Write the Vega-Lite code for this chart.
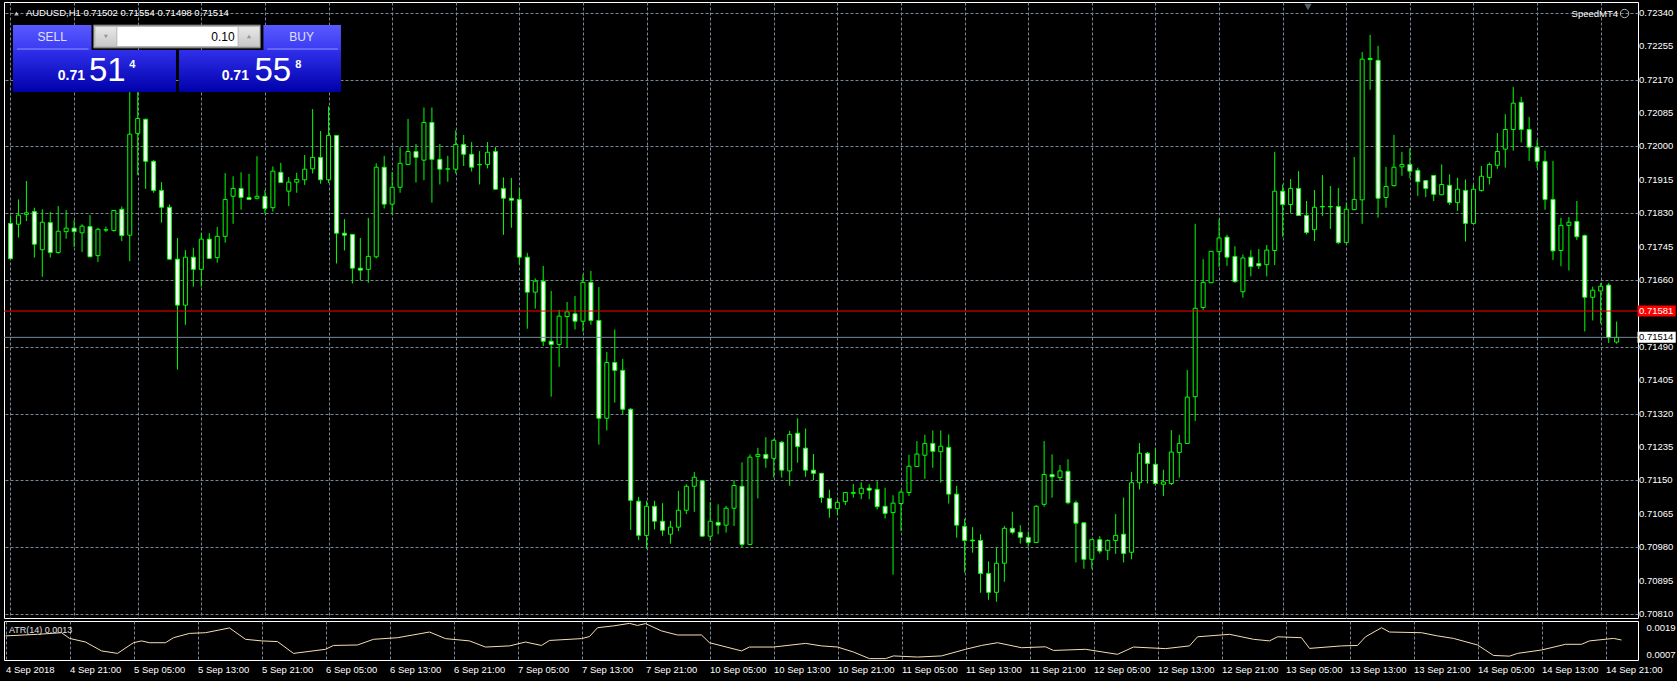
{
"$schema": "https://vega.github.io/schema/vega-lite/v6.json",
"background": "#000000",
"padding": {"left": 3, "top": 1, "right": 0, "bottom": 8},
"bounds": "flush",
"spacing": 3,
"config": {
  "view": {"stroke": "#ffffff", "strokeWidth": 1},
  "axis": {"labelFont": "Liberation Sans", "labelColor": "#ffffff", "labelFontSize": 9.5, "labelOverlap": false, "labelFlush": false, "gridColor": "#778899", "gridDash": [3, 2], "gridOpacity": 1, "gridWidth": 1, "domain": false, "ticks": false, "title": null},
  "text": {"font": "Liberation Sans"}
},
"datasets": {
  "candles": [
{"i":0,"o":0.71804,"h":0.71824,"l":0.71713,"c":0.71714},
{"i":1,"o":0.71802,"h":0.71865,"l":0.71768,"c":0.71825},
{"i":2,"o":0.71827,"h":0.71912,"l":0.71810,"c":0.71831},
{"i":3,"o":0.71834,"h":0.71844,"l":0.71717,"c":0.71751},
{"i":4,"o":0.71737,"h":0.71840,"l":0.71668,"c":0.71807},
{"i":5,"o":0.71806,"h":0.71833,"l":0.71717,"c":0.71730},
{"i":6,"o":0.71730,"h":0.71848,"l":0.71727,"c":0.71784},
{"i":7,"o":0.71783,"h":0.71838,"l":0.71765,"c":0.71792},
{"i":8,"o":0.71792,"h":0.71812,"l":0.71744,"c":0.71783},
{"i":9,"o":0.71780,"h":0.71802,"l":0.71731,"c":0.71797},
{"i":10,"o":0.71796,"h":0.71825,"l":0.71718,"c":0.71719},
{"i":11,"o":0.71722,"h":0.71793,"l":0.71706,"c":0.71789},
{"i":12,"o":0.71787,"h":0.71796,"l":0.71782,"c":0.71788},
{"i":13,"o":0.71786,"h":0.71838,"l":0.71783,"c":0.71837},
{"i":14,"o":0.71840,"h":0.71847,"l":0.71759,"c":0.71773},
{"i":15,"o":0.71774,"h":0.72150,"l":0.71708,"c":0.72031},
{"i":16,"o":0.72033,"h":0.72140,"l":0.71927,"c":0.72071},
{"i":17,"o":0.72069,"h":0.72071,"l":0.71892,"c":0.71962},
{"i":18,"o":0.71962,"h":0.71965,"l":0.71882,"c":0.71888},
{"i":19,"o":0.71888,"h":0.71909,"l":0.71806,"c":0.71845},
{"i":20,"o":0.71845,"h":0.71852,"l":0.71712,"c":0.71713},
{"i":21,"o":0.71713,"h":0.71767,"l":0.71432,"c":0.71596},
{"i":22,"o":0.71596,"h":0.71736,"l":0.71546,"c":0.71718},
{"i":23,"o":0.71718,"h":0.71742,"l":0.71643,"c":0.71687},
{"i":24,"o":0.71687,"h":0.71780,"l":0.71643,"c":0.71764},
{"i":25,"o":0.71764,"h":0.71779,"l":0.71714,"c":0.71715},
{"i":26,"o":0.71717,"h":0.71795,"l":0.71704,"c":0.71771},
{"i":27,"o":0.71771,"h":0.71932,"l":0.71755,"c":0.71865},
{"i":28,"o":0.71873,"h":0.71924,"l":0.71803,"c":0.71893},
{"i":29,"o":0.71893,"h":0.71934,"l":0.71839,"c":0.71870},
{"i":30,"o":0.71870,"h":0.71930,"l":0.71863,"c":0.71865},
{"i":31,"o":0.71868,"h":0.71975,"l":0.71865,"c":0.71873},
{"i":32,"o":0.71873,"h":0.71889,"l":0.71829,"c":0.71842},
{"i":33,"o":0.71844,"h":0.71949,"l":0.71834,"c":0.71937},
{"i":34,"o":0.71934,"h":0.71958,"l":0.71907,"c":0.71908},
{"i":35,"o":0.71886,"h":0.71922,"l":0.71848,"c":0.71909},
{"i":36,"o":0.71909,"h":0.71933,"l":0.71882,"c":0.71916},
{"i":37,"o":0.71915,"h":0.71978,"l":0.71902,"c":0.71942},
{"i":38,"o":0.71943,"h":0.72095,"l":0.71931,"c":0.71972},
{"i":39,"o":0.71972,"h":0.72039,"l":0.71905,"c":0.71915},
{"i":40,"o":0.71915,"h":0.72102,"l":0.71907,"c":0.72028},
{"i":41,"o":0.72028,"h":0.72029,"l":0.71702,"c":0.71779},
{"i":42,"o":0.71779,"h":0.71815,"l":0.71735,"c":0.71774},
{"i":43,"o":0.71776,"h":0.71776,"l":0.71651,"c":0.71690},
{"i":44,"o":0.71690,"h":0.71767,"l":0.71659,"c":0.71685},
{"i":45,"o":0.71687,"h":0.71818,"l":0.71653,"c":0.71720},
{"i":46,"o":0.71719,"h":0.71957,"l":0.71715,"c":0.71947},
{"i":47,"o":0.71947,"h":0.71976,"l":0.71842,"c":0.71853},
{"i":48,"o":0.71853,"h":0.71935,"l":0.71827,"c":0.71896},
{"i":49,"o":0.71896,"h":0.71998,"l":0.71882,"c":0.71957},
{"i":50,"o":0.71954,"h":0.72070,"l":0.71953,"c":0.71987},
{"i":51,"o":0.71987,"h":0.72006,"l":0.71908,"c":0.71972},
{"i":52,"o":0.71965,"h":0.72099,"l":0.71914,"c":0.72061},
{"i":53,"o":0.72061,"h":0.72099,"l":0.71857,"c":0.71967},
{"i":54,"o":0.71967,"h":0.72006,"l":0.71903,"c":0.71942},
{"i":55,"o":0.71942,"h":0.71976,"l":0.71910,"c":0.71943},
{"i":56,"o":0.71942,"h":0.72041,"l":0.71931,"c":0.72005},
{"i":57,"o":0.72005,"h":0.72029,"l":0.71950,"c":0.71980},
{"i":58,"o":0.71980,"h":0.72011,"l":0.71936,"c":0.71947},
{"i":59,"o":0.71953,"h":0.71988,"l":0.71903,"c":0.71954},
{"i":60,"o":0.71954,"h":0.72011,"l":0.71944,"c":0.71985},
{"i":61,"o":0.71987,"h":0.71998,"l":0.71890,"c":0.71891},
{"i":62,"o":0.71893,"h":0.71921,"l":0.71775,"c":0.71868},
{"i":63,"o":0.71868,"h":0.71920,"l":0.71793,"c":0.71863},
{"i":64,"o":0.71865,"h":0.71895,"l":0.71700,"c":0.71718},
{"i":65,"o":0.71718,"h":0.71729,"l":0.71536,"c":0.71629},
{"i":66,"o":0.71629,"h":0.71664,"l":0.71587,"c":0.71657},
{"i":67,"o":0.71657,"h":0.71696,"l":0.71492,"c":0.71504},
{"i":68,"o":0.71504,"h":0.71632,"l":0.71363,"c":0.71496},
{"i":69,"o":0.71496,"h":0.71584,"l":0.71439,"c":0.71568},
{"i":70,"o":0.71567,"h":0.71604,"l":0.71488,"c":0.71579},
{"i":71,"o":0.71574,"h":0.71619,"l":0.71534,"c":0.71555},
{"i":72,"o":0.71555,"h":0.71674,"l":0.71528,"c":0.71654},
{"i":73,"o":0.71654,"h":0.71683,"l":0.71546,"c":0.71557},
{"i":74,"o":0.71557,"h":0.71642,"l":0.71241,"c":0.71308},
{"i":75,"o":0.71308,"h":0.71477,"l":0.71277,"c":0.71450},
{"i":76,"o":0.71450,"h":0.71534,"l":0.71348,"c":0.71430},
{"i":77,"o":0.71430,"h":0.71459,"l":0.71318,"c":0.71331},
{"i":78,"o":0.71331,"h":0.71334,"l":0.71024,"c":0.71099},
{"i":79,"o":0.71097,"h":0.71108,"l":0.70998,"c":0.71010},
{"i":80,"o":0.71010,"h":0.71098,"l":0.70976,"c":0.71084},
{"i":81,"o":0.71084,"h":0.71098,"l":0.71025,"c":0.71046},
{"i":82,"o":0.71046,"h":0.71092,"l":0.71009,"c":0.71023},
{"i":83,"o":0.71013,"h":0.71047,"l":0.70989,"c":0.71031},
{"i":84,"o":0.71031,"h":0.71123,"l":0.71021,"c":0.71074},
{"i":85,"o":0.71074,"h":0.71140,"l":0.71064,"c":0.71135},
{"i":86,"o":0.71135,"h":0.71171,"l":0.71070,"c":0.71158},
{"i":87,"o":0.71149,"h":0.71150,"l":0.71007,"c":0.71008},
{"i":88,"o":0.71008,"h":0.71095,"l":0.70996,"c":0.71046},
{"i":89,"o":0.71043,"h":0.71089,"l":0.71013,"c":0.71036},
{"i":90,"o":0.71036,"h":0.71085,"l":0.71017,"c":0.71079},
{"i":91,"o":0.71079,"h":0.71150,"l":0.71034,"c":0.71137},
{"i":92,"o":0.71135,"h":0.71196,"l":0.70979,"c":0.70987},
{"i":93,"o":0.70987,"h":0.71216,"l":0.70986,"c":0.71209},
{"i":94,"o":0.71211,"h":0.71233,"l":0.71104,"c":0.71216},
{"i":95,"o":0.71216,"h":0.71260,"l":0.71182,"c":0.71206},
{"i":96,"o":0.71206,"h":0.71255,"l":0.71157,"c":0.71252},
{"i":97,"o":0.71247,"h":0.71250,"l":0.71157,"c":0.71176},
{"i":98,"o":0.71174,"h":0.71276,"l":0.71136,"c":0.71267},
{"i":99,"o":0.71270,"h":0.71308,"l":0.71195,"c":0.71236},
{"i":100,"o":0.71232,"h":0.71282,"l":0.71159,"c":0.71176},
{"i":101,"o":0.71176,"h":0.71217,"l":0.71151,"c":0.71168},
{"i":102,"o":0.71168,"h":0.71169,"l":0.71093,"c":0.71106},
{"i":103,"o":0.71104,"h":0.71126,"l":0.71055,"c":0.71079},
{"i":104,"o":0.71078,"h":0.71100,"l":0.71061,"c":0.71094},
{"i":105,"o":0.71096,"h":0.71120,"l":0.71087,"c":0.71119},
{"i":106,"o":0.71117,"h":0.71141,"l":0.71106,"c":0.71119},
{"i":107,"o":0.71116,"h":0.71145,"l":0.71102,"c":0.71130},
{"i":108,"o":0.71130,"h":0.71140,"l":0.71102,"c":0.71125},
{"i":109,"o":0.71127,"h":0.71148,"l":0.71076,"c":0.71083},
{"i":110,"o":0.71084,"h":0.71131,"l":0.71053,"c":0.71066},
{"i":111,"o":0.71068,"h":0.71112,"l":0.70910,"c":0.71092},
{"i":112,"o":0.71091,"h":0.71126,"l":0.71021,"c":0.71120},
{"i":113,"o":0.71119,"h":0.71215,"l":0.71110,"c":0.71186},
{"i":114,"o":0.71185,"h":0.71250,"l":0.71184,"c":0.71217},
{"i":115,"o":0.71214,"h":0.71266,"l":0.71154,"c":0.71244},
{"i":116,"o":0.71244,"h":0.71277,"l":0.71182,"c":0.71224},
{"i":117,"o":0.71223,"h":0.71277,"l":0.71144,"c":0.71237},
{"i":118,"o":0.71234,"h":0.71267,"l":0.71091,"c":0.71115},
{"i":119,"o":0.71115,"h":0.71136,"l":0.71004,"c":0.71036},
{"i":120,"o":0.71033,"h":0.71052,"l":0.70915,"c":0.70997},
{"i":121,"o":0.70998,"h":0.71031,"l":0.70966,"c":0.70996},
{"i":122,"o":0.70997,"h":0.71013,"l":0.70864,"c":0.70913},
{"i":123,"o":0.70913,"h":0.70944,"l":0.70846,"c":0.70865},
{"i":124,"o":0.70865,"h":0.70979,"l":0.70841,"c":0.70939},
{"i":125,"o":0.70939,"h":0.71034,"l":0.70892,"c":0.71028},
{"i":126,"o":0.71028,"h":0.71070,"l":0.71013,"c":0.71018},
{"i":127,"o":0.71018,"h":0.71036,"l":0.70989,"c":0.71005},
{"i":128,"o":0.71005,"h":0.71020,"l":0.70981,"c":0.70992},
{"i":129,"o":0.70992,"h":0.71087,"l":0.70991,"c":0.71084},
{"i":130,"o":0.71089,"h":0.71250,"l":0.71083,"c":0.71165},
{"i":131,"o":0.71165,"h":0.71216,"l":0.71106,"c":0.71159},
{"i":132,"o":0.71157,"h":0.71189,"l":0.71148,"c":0.71174},
{"i":133,"o":0.71173,"h":0.71204,"l":0.71089,"c":0.71093},
{"i":134,"o":0.71093,"h":0.71099,"l":0.70941,"c":0.71041},
{"i":135,"o":0.71042,"h":0.71042,"l":0.70925,"c":0.70949},
{"i":136,"o":0.70949,"h":0.71000,"l":0.70925,"c":0.70999},
{"i":137,"o":0.70999,"h":0.71008,"l":0.70964,"c":0.70970},
{"i":138,"o":0.70972,"h":0.71000,"l":0.70947,"c":0.70997},
{"i":139,"o":0.70997,"h":0.71064,"l":0.70963,"c":0.71010},
{"i":140,"o":0.71013,"h":0.71106,"l":0.70941,"c":0.70964},
{"i":141,"o":0.70967,"h":0.71171,"l":0.70949,"c":0.71144},
{"i":142,"o":0.71144,"h":0.71245,"l":0.71127,"c":0.71219},
{"i":143,"o":0.71219,"h":0.71222,"l":0.71142,"c":0.71193},
{"i":144,"o":0.71191,"h":0.71232,"l":0.71137,"c":0.71142},
{"i":145,"o":0.71140,"h":0.71177,"l":0.71110,"c":0.71146},
{"i":146,"o":0.71142,"h":0.71278,"l":0.71138,"c":0.71222},
{"i":147,"o":0.71221,"h":0.71266,"l":0.71157,"c":0.71244},
{"i":148,"o":0.71244,"h":0.71431,"l":0.71243,"c":0.71362},
{"i":149,"o":0.71363,"h":0.71803,"l":0.71301,"c":0.71588},
{"i":150,"o":0.71590,"h":0.71713,"l":0.71584,"c":0.71654},
{"i":151,"o":0.71653,"h":0.71734,"l":0.71652,"c":0.71733},
{"i":152,"o":0.71732,"h":0.71815,"l":0.71693,"c":0.71767},
{"i":153,"o":0.71769,"h":0.71775,"l":0.71696,"c":0.71718},
{"i":154,"o":0.71720,"h":0.71746,"l":0.71653,"c":0.71656},
{"i":155,"o":0.71630,"h":0.71725,"l":0.71615,"c":0.71716},
{"i":156,"o":0.71718,"h":0.71736,"l":0.71669,"c":0.71694},
{"i":157,"o":0.71702,"h":0.71739,"l":0.71688,"c":0.71696},
{"i":158,"o":0.71699,"h":0.71749,"l":0.71669,"c":0.71736},
{"i":159,"o":0.71735,"h":0.71986,"l":0.71698,"c":0.71886},
{"i":160,"o":0.71886,"h":0.71903,"l":0.71770,"c":0.71852},
{"i":161,"o":0.71852,"h":0.71917,"l":0.71830,"c":0.71893},
{"i":162,"o":0.71893,"h":0.71937,"l":0.71823,"c":0.71824},
{"i":163,"o":0.71824,"h":0.71861,"l":0.71776,"c":0.71781},
{"i":164,"o":0.71788,"h":0.71889,"l":0.71759,"c":0.71845},
{"i":165,"o":0.71846,"h":0.71927,"l":0.71823,"c":0.71847},
{"i":166,"o":0.71847,"h":0.71899,"l":0.71790,"c":0.71846},
{"i":167,"o":0.71847,"h":0.71894,"l":0.71751,"c":0.71755},
{"i":168,"o":0.71755,"h":0.71857,"l":0.71754,"c":0.71840},
{"i":169,"o":0.71839,"h":0.71973,"l":0.71838,"c":0.71865},
{"i":170,"o":0.71864,"h":0.72240,"l":0.71803,"c":0.72222},
{"i":171,"o":0.72224,"h":0.72284,"l":0.72144,"c":0.72221},
{"i":172,"o":0.72219,"h":0.72256,"l":0.71819,"c":0.71868},
{"i":173,"o":0.71870,"h":0.71948,"l":0.71844,"c":0.71898},
{"i":174,"o":0.71900,"h":0.72029,"l":0.71898,"c":0.71947},
{"i":175,"o":0.71948,"h":0.71986,"l":0.71925,"c":0.71954},
{"i":176,"o":0.71954,"h":0.71995,"l":0.71919,"c":0.71937},
{"i":177,"o":0.71939,"h":0.71946,"l":0.71874,"c":0.71910},
{"i":178,"o":0.71913,"h":0.71914,"l":0.71871,"c":0.71893},
{"i":179,"o":0.71926,"h":0.71926,"l":0.71861,"c":0.71878},
{"i":180,"o":0.71877,"h":0.71954,"l":0.71876,"c":0.71903},
{"i":181,"o":0.71901,"h":0.71929,"l":0.71851,"c":0.71857},
{"i":182,"o":0.71857,"h":0.71920,"l":0.71836,"c":0.71891},
{"i":183,"o":0.71888,"h":0.71916,"l":0.71758,"c":0.71804},
{"i":184,"o":0.71804,"h":0.71903,"l":0.71803,"c":0.71891},
{"i":185,"o":0.71888,"h":0.71950,"l":0.71885,"c":0.71924},
{"i":186,"o":0.71921,"h":0.71959,"l":0.71903,"c":0.71954},
{"i":187,"o":0.71952,"h":0.72034,"l":0.71943,"c":0.71987},
{"i":188,"o":0.71993,"h":0.72082,"l":0.71946,"c":0.72043},
{"i":189,"o":0.72043,"h":0.72151,"l":0.71989,"c":0.72110},
{"i":190,"o":0.72112,"h":0.72126,"l":0.72010,"c":0.72043},
{"i":191,"o":0.72043,"h":0.72075,"l":0.71963,"c":0.71998},
{"i":192,"o":0.71998,"h":0.72016,"l":0.71945,"c":0.71962},
{"i":193,"o":0.71962,"h":0.71989,"l":0.71839,"c":0.71865},
{"i":194,"o":0.71865,"h":0.71963,"l":0.71711,"c":0.71734},
{"i":195,"o":0.71735,"h":0.71818,"l":0.71695,"c":0.71799},
{"i":196,"o":0.71799,"h":0.71820,"l":0.71684,"c":0.71807},
{"i":197,"o":0.71809,"h":0.71861,"l":0.71762,"c":0.71770},
{"i":198,"o":0.71773,"h":0.71776,"l":0.71529,"c":0.71616},
{"i":199,"o":0.71616,"h":0.71643,"l":0.71557,"c":0.71634},
{"i":200,"o":0.71632,"h":0.71652,"l":0.71549,"c":0.71644},
{"i":201,"o":0.71647,"h":0.71652,"l":0.71500,"c":0.71513},
{"i":202,"o":0.71502,"h":0.71554,"l":0.71498,"c":0.71514}
  ],
  "atr": [
{"i":0,"atr":0.00154},{"i":4,"atr":0.00161},{"i":7,"atr":0.00168},{"i":8,"atr":0.00143},{"i":10,"atr":0.00127},{"i":12,"atr":0.00088},{"i":14,"atr":0.00077},{"i":16,"atr":0.00124},{"i":17,"atr":0.00132},{"i":18,"atr":0.00124},{"i":20,"atr":0.00124},{"i":21,"atr":0.00146},{"i":23,"atr":0.00165},{"i":25,"atr":0.00168},{"i":28,"atr":0.00189},{"i":30,"atr":0.00139},{"i":32,"atr":0.00132},{"i":34,"atr":0.00129},{"i":36,"atr":0.00077},{"i":40,"atr":0.00095},{"i":41,"atr":0.00112},{"i":44,"atr":0.00114},{"i":46,"atr":0.00139},{"i":49,"atr":0.00146},{"i":53,"atr":0.00171},{"i":55,"atr":0.00142},{"i":58,"atr":0.00132},{"i":60,"atr":0.00105},{"i":63,"atr":0.00110},{"i":65,"atr":0.00127},{"i":67,"atr":0.00112},{"i":68,"atr":0.00134},{"i":72,"atr":0.00142},{"i":73,"atr":0.00151},{"i":74,"atr":0.00190},{"i":76,"atr":0.00198},{"i":78,"atr":0.00209},{"i":79,"atr":0.00200},{"i":80,"atr":0.00208},{"i":82,"atr":0.00176},{"i":84,"atr":0.00158},{"i":87,"atr":0.00158},{"i":88,"atr":0.00124},{"i":92,"atr":0.00088},{"i":93,"atr":0.00105},{"i":96,"atr":0.00105},{"i":100,"atr":0.00121},{"i":102,"atr":0.00110},{"i":104,"atr":0.00105},{"i":106,"atr":0.00083},{"i":108,"atr":0.00054},{"i":110,"atr":0.00054},{"i":111,"atr":0.00066},{"i":114,"atr":0.00061},{"i":117,"atr":0.00066},{"i":120,"atr":0.00095},{"i":122,"atr":0.00112},{"i":124,"atr":0.00124},{"i":127,"atr":0.00102},{"i":130,"atr":0.00106},{"i":131,"atr":0.00090},{"i":135,"atr":0.00095},{"i":139,"atr":0.00073},{"i":141,"atr":0.00105},{"i":145,"atr":0.00098},{"i":148,"atr":0.00110},{"i":149,"atr":0.00150},{"i":153,"atr":0.00161},{"i":156,"atr":0.00139},{"i":158,"atr":0.00132},{"i":159,"atr":0.00150},{"i":162,"atr":0.00146},{"i":163,"atr":0.00099},{"i":167,"atr":0.00110},{"i":169,"atr":0.00112},{"i":170,"atr":0.00150},{"i":172,"atr":0.00190},{"i":173,"atr":0.00171},{"i":177,"atr":0.00168},{"i":179,"atr":0.00154},{"i":181,"atr":0.00143},{"i":184,"atr":0.00114},{"i":186,"atr":0.00068},{"i":188,"atr":0.00065},{"i":189,"atr":0.00077},{"i":192,"atr":0.00092},{"i":195,"atr":0.00117},{"i":197,"atr":0.00117},{"i":198,"atr":0.00132},{"i":201,"atr":0.00143},{"i":202,"atr":0.00136}
  ],
  "levels": [
    {"line": "Ask", "price": 0.71581},
    {"line": "Bid", "price": 0.71514}
  ],
  "pricescale": [
    {"p": 0.70810}, {"p": 0.70895}, {"p": 0.70980}, {"p": 0.71065}, {"p": 0.71150}, {"p": 0.71235}, {"p": 0.71320}, {"p": 0.71405}, {"p": 0.71490}, {"p": 0.71575},
    {"p": 0.71660}, {"p": 0.71745}, {"p": 0.71830}, {"p": 0.71915}, {"p": 0.72000}, {"p": 0.72085}, {"p": 0.72170}, {"p": 0.72255}, {"p": 0.72340}
  ]
},
"vconcat": [
{
  "width": 1634,
  "height": 616,
  "resolve": {"scale": {"color": "independent", "fill": "independent", "stroke": "independent"}},
  "layer": [
    {
      "data": {"name": "candles"},
      "mark": {"type": "rule", "color": "#00ff00", "strokeWidth": 1, "clip": true},
      "encoding": {
        "x": {"field": "i", "type": "quantitative",
              "scale": {"domain": [-0.1875, 204.0625], "nice": false, "zero": false},
              "axis": {"orient": "bottom", "values": [0,4,8,12,16,20,24,28,32,36,40,44,48,52,56,60,64,68,72,76,80,84,88,92,96,100,104,108,112,116,120,124,128,132,136,140,144,148,152,156,160,164,168,172,176,180,184,188,192,196,200], "labels": false, "grid": true}},
        "y": {"field": "l", "type": "quantitative",
              "scale": {"domain": [0.707997, 0.723675], "nice": false, "zero": false},
              "axis": {"orient": "right", "values": [0.7081,0.70895,0.7098,0.71065,0.7115,0.71235,0.7132,0.71405,0.7149,0.71575,0.7166,0.71745,0.7183,0.71915,0.72,0.72085,0.7217,0.72255,0.7234], "labels": false, "grid": true}},
        "y2": {"field": "h"}
      }
    },
    {
      "data": {"name": "candles"},
      "mark": {"type": "bar", "size": 4, "stroke": "#00ff00", "strokeWidth": 1, "clip": true},
      "encoding": {
        "x": {"field": "i", "type": "quantitative"},
        "y": {"field": "o", "type": "quantitative"},
        "y2": {"field": "c"},
        "fill": {"condition": {"test": "datum.c < datum.o", "value": "#ffffff"}, "value": "#000000"}
      }
    },
    {
      "data": {"name": "pricescale"},
      "mark": {"type": "text", "align": "left", "baseline": "middle", "fontSize": 9.5, "color": "#ffffff", "clip": false},
      "encoding": {
        "x": {"datum": 204.8125},
        "y": {"field": "p", "type": "quantitative"},
        "text": {"field": "p", "format": ".5f"}
      }
    },
    {
      "data": {"name": "levels"},
      "mark": {"type": "rule", "strokeWidth": 1},
      "encoding": {
        "y": {"field": "price", "type": "quantitative"},
        "stroke": {"field": "line", "type": "nominal", "scale": {"domain": ["Ask", "Bid"], "range": ["#ff0000", "#778899"]}, "legend": null}
      }
    },
    {
      "data": {"name": "levels"},
      "mark": {"type": "rect", "height": 11, "clip": false},
      "encoding": {
        "x": {"datum": 204.625}, "x2": {"datum": 209.4375},
        "y": {"field": "price", "type": "quantitative"},
        "fill": {"field": "line", "type": "nominal", "scale": {"domain": ["Ask", "Bid"], "range": ["#ff0000", "#ffffff"]}, "legend": null}
      }
    },
    {
      "data": {"name": "levels"},
      "mark": {"type": "text", "align": "left", "baseline": "middle", "fontSize": 9.5, "clip": false},
      "encoding": {
        "x": {"datum": 204.8125},
        "y": {"field": "price", "type": "quantitative"},
        "text": {"field": "price", "format": ".5f"},
        "color": {"field": "line", "type": "nominal", "scale": {"domain": ["Ask", "Bid"], "range": ["#ffffff", "#000000"]}, "legend": null}
      }
    },
    {
      "data": {"values": [{}]},
      "mark": {"type": "rect", "fill": {"gradient": "linear", "x1": 0, "y1": 0, "x2": 0, "y2": 1, "stops": [{"offset": 0, "color": "#5a5aff"}, {"offset": 1, "color": "#3a3af2"}]}},
      "encoding": {"x": {"datum": 0.3125}, "x2": {"datum": 10.1875}, "y": {"datum": 0.723089}, "y2": {"datum": 0.722453}}
    },
    {
      "data": {"values": [{}]},
      "mark": {"type": "rect", "fill": {"gradient": "linear", "x1": 0, "y1": 0, "x2": 0, "y2": 1, "stops": [{"offset": 0, "color": "#5a5aff"}, {"offset": 1, "color": "#3a3af2"}]}},
      "encoding": {"x": {"datum": 31.8125}, "x2": {"datum": 41.5625}, "y": {"datum": 0.723089}, "y2": {"datum": 0.722453}}
    },
    {
      "data": {"values": [{}]},
      "mark": {"type": "rect", "fill": {"gradient": "linear", "x1": 0, "y1": 0, "x2": 0, "y2": 1, "stops": [{"offset": 0, "color": "#3030ec"}, {"offset": 1, "color": "#0000aa"}]}},
      "encoding": {"x": {"datum": 0.3125}, "x2": {"datum": 20.8125}, "y": {"datum": 0.722453}, "y2": {"datum": 0.721384}}
    },
    {
      "data": {"values": [{}]},
      "mark": {"type": "rect", "fill": {"gradient": "linear", "x1": 0, "y1": 0, "x2": 0, "y2": 1, "stops": [{"offset": 0, "color": "#3030ec"}, {"offset": 1, "color": "#0000aa"}]}},
      "encoding": {"x": {"datum": 21.1875}, "x2": {"datum": 41.5625}, "y": {"datum": 0.722453}, "y2": {"datum": 0.721384}}
    },
    {
      "data": {"values": [{}]},
      "mark": {"type": "rect", "fill": "#b8b8b8", "stroke": "#606060", "strokeWidth": 1},
      "encoding": {"x": {"datum": 10.4375}, "x2": {"datum": 31.4375}, "y": {"datum": 0.723089}, "y2": {"datum": 0.722504}}
    },
    {
      "data": {"values": [{}]},
      "mark": {"type": "rect", "fill": {"gradient": "linear", "x1": 0, "y1": 0, "x2": 0, "y2": 1, "stops": [{"offset": 0, "color": "#e8e8e8"}, {"offset": 1, "color": "#c8c8c8"}]}},
      "encoding": {"x": {"datum": 10.6875}, "x2": {"datum": 13.3125}, "y": {"datum": 0.723038}, "y2": {"datum": 0.722555}}
    },
    {
      "data": {"values": [{}]},
      "mark": {"type": "rect", "fill": {"gradient": "linear", "x1": 0, "y1": 0, "x2": 0, "y2": 1, "stops": [{"offset": 0, "color": "#e8e8e8"}, {"offset": 1, "color": "#c8c8c8"}]}},
      "encoding": {"x": {"datum": 28.6875}, "x2": {"datum": 31.3125}, "y": {"datum": 0.723038}, "y2": {"datum": 0.722555}}
    },
    {
      "data": {"values": [{}]},
      "mark": {"type": "rect", "fill": "#ffffff"},
      "encoding": {"x": {"datum": 13.4375}, "x2": {"datum": 28.5625}, "y": {"datum": 0.723038}, "y2": {"datum": 0.722555}}
    },
    {
      "data": {"values": [{}]},
      "mark": {"type": "point", "shape": "triangle-down", "size": 18, "filled": true, "color": "#6a7a9a"},
      "encoding": {"x": {"datum": 12.0}, "y": {"datum": 0.722797}}
    },
    {
      "data": {"values": [{}]},
      "mark": {"type": "point", "shape": "triangle-up", "size": 18, "filled": true, "color": "#6a7a9a"},
      "encoding": {"x": {"datum": 30.0}, "y": {"datum": 0.722797}}
    },
    {
      "data": {"values": [{}]},
      "mark": {"type": "rule", "color": "#9090ff", "strokeWidth": 1},
      "encoding": {"x": {"datum": 0.8125}, "x2": {"datum": 9.8125}, "y": {"datum": 0.722478}}
    },
    {
      "data": {"values": [{}]},
      "mark": {"type": "rule", "color": "#9090ff", "strokeWidth": 1},
      "encoding": {"x": {"datum": 32.3125}, "x2": {"datum": 41.1875}, "y": {"datum": 0.722478}}
    },
    {
      "data": {"values": [{}]},
      "mark": {"type": "text", "text": "SELL", "align": "center", "baseline": "middle", "fontSize": 12, "color": "#e0e0ff"},
      "encoding": {"x": {"datum": 5.25}, "y": {"datum": 0.722784}}
    },
    {
      "data": {"values": [{}]},
      "mark": {"type": "text", "text": "BUY", "align": "center", "baseline": "middle", "fontSize": 12, "color": "#e0e0ff"},
      "encoding": {"x": {"datum": 36.625}, "y": {"datum": 0.722784}}
    },
    {
      "data": {"values": [{}]},
      "mark": {"type": "text", "text": "0.10", "align": "right", "baseline": "middle", "fontSize": 12, "color": "#000000"},
      "encoding": {"x": {"datum": 28.1875}, "y": {"datum": 0.722784}}
    },
    {
      "data": {"values": [{}]},
      "mark": {"type": "text", "text": "0.71", "align": "left", "baseline": "alphabetic", "fontSize": 14, "fontWeight": "bold", "color": "#ffffff"},
      "encoding": {"x": {"datum": 5.9375}, "y": {"datum": 0.721689}}
    },
    {
      "data": {"values": [{}]},
      "mark": {"type": "text", "text": "51", "align": "left", "baseline": "alphabetic", "fontSize": 33, "color": "#ffffff"},
      "encoding": {"x": {"datum": 9.875}, "y": {"datum": 0.721664}}
    },
    {
      "data": {"values": [{}]},
      "mark": {"type": "text", "text": "4", "align": "left", "baseline": "alphabetic", "fontSize": 11, "fontWeight": "bold", "color": "#ffffff"},
      "encoding": {"x": {"datum": 14.9375}, "y": {"datum": 0.721995}}
    },
    {
      "data": {"values": [{}]},
      "mark": {"type": "text", "text": "0.71", "align": "left", "baseline": "alphabetic", "fontSize": 14, "fontWeight": "bold", "color": "#ffffff"},
      "encoding": {"x": {"datum": 26.5625}, "y": {"datum": 0.721689}}
    },
    {
      "data": {"values": [{}]},
      "mark": {"type": "text", "text": "55", "align": "left", "baseline": "alphabetic", "fontSize": 33, "color": "#ffffff"},
      "encoding": {"x": {"datum": 30.6875}, "y": {"datum": 0.721664}}
    },
    {
      "data": {"values": [{}]},
      "mark": {"type": "text", "text": "8", "align": "left", "baseline": "alphabetic", "fontSize": 11, "fontWeight": "bold", "color": "#ffffff"},
      "encoding": {"x": {"datum": 35.8125}, "y": {"datum": 0.721995}}
    },
    {
      "data": {"values": [{}]},
      "mark": {"type": "text", "text": "AUDUSD,H1  0.71502 0.71554 0.71498 0.71514", "align": "left", "baseline": "alphabetic", "fontSize": 9.5, "color": "#ffffff"},
      "encoding": {"x": {"datum": 1.9375}, "y": {"datum": 0.723318}}
    },
    {
      "data": {"values": [{}]},
      "mark": {"type": "point", "shape": "triangle-up", "size": 22, "filled": true, "color": "#ffffff"},
      "encoding": {"x": {"datum": 0.75}, "y": {"datum": 0.723382}}
    },
    {
      "data": {"values": [{}]},
      "mark": {"type": "text", "text": "SpeedMT4", "align": "right", "baseline": "alphabetic", "fontSize": 9.5, "color": "#ffffff"},
      "encoding": {"x": {"datum": 202.1875}, "y": {"datum": 0.723293}}
    },
    {
      "data": {"values": [{}]},
      "mark": {"type": "point", "shape": "circle", "size": 70, "filled": false, "color": "#ffffff", "strokeWidth": 1},
      "encoding": {"x": {"datum": 203.0}, "y": {"datum": 0.723382}}
    },
    {
      "data": {"values": [{}]},
      "mark": {"type": "point", "shape": "triangle-down", "size": 55, "filled": true, "color": "#778899", "clip": true},
      "encoding": {"x": {"datum": 163.1875}, "y": {"datum": 0.723547}}
    }
  ]
},
{
  "width": 1634,
  "height": 39,
  "layer": [
    {
      "data": {"name": "atr"},
      "mark": {"type": "line", "color": "#f5deb3", "strokeWidth": 1, "clip": true},
      "encoding": {
        "x": {"field": "i", "type": "quantitative",
              "scale": {"domain": [-0.1875, 204.0625], "nice": false, "zero": false},
              "axis": {"orient": "bottom", "values": [0,4,8,12,16,20,24,28,32,36,40,44,48,52,56,60,64,68,72,76,80,84,88,92,96,100,104,108,112,116,120,124,128,132,136,140,144,148,152,156,160,164,168,172,176,180,184,188,192,196,200], "grid": true, "labelAlign": "left", "labelPadding": 4, "labelFlush": false, "labelOverlap": false,
                       "labelExpr": "datum.value % 8 == 0 ? ['4 Sep 2018','4 Sep 21:00','5 Sep 05:00','5 Sep 13:00','5 Sep 21:00','6 Sep 05:00','6 Sep 13:00','6 Sep 21:00','7 Sep 05:00','7 Sep 13:00','7 Sep 21:00','10 Sep 05:00','10 Sep 13:00','10 Sep 21:00','11 Sep 05:00','11 Sep 13:00','11 Sep 21:00','12 Sep 05:00','12 Sep 13:00','12 Sep 21:00','13 Sep 05:00','13 Sep 13:00','13 Sep 21:00','14 Sep 05:00','14 Sep 13:00','14 Sep 21:00'][datum.value / 8] : ''"}},
        "y": {"field": "atr", "type": "quantitative",
              "scale": {"domain": [0.00048, 0.002195], "nice": false, "zero": false},
              "axis": {"orient": "right", "values": [0.0007, 0.0019], "format": ".4f", "labelAlign": "left", "labelPadding": 8, "grid": false}}
      }
    },
    {
      "data": {"values": [{}]},
      "mark": {"type": "text", "text": "ATR(14) 0.0013", "align": "left", "baseline": "alphabetic", "fontSize": 9, "color": "#e0e0e0"},
      "encoding": {"x": {"datum": 0.4375}, "y": {"datum": 0.00168}}
    }
  ]
}
]
}
